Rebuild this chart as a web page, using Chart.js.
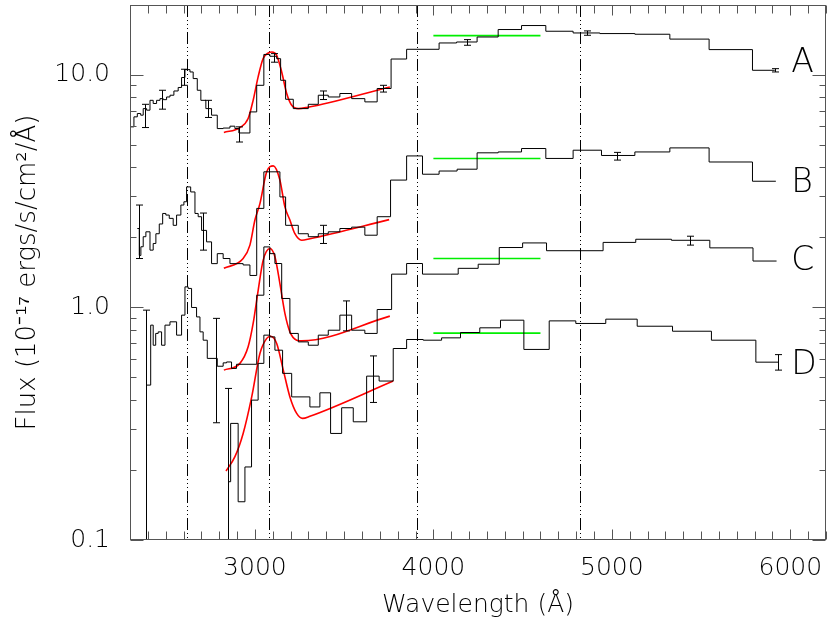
<!DOCTYPE html>
<html lang="en">
<head>
<meta charset="UTF-8">
<title>Flux vs Wavelength</title>
<script src="https://cdn.jsdelivr.net/npm/chart.js"></script>
<style>
  html, body { margin: 0; padding: 0; background: #fff; }
  #wrap { width: 830px; height: 623px; }
</style>
</head>
<body>
<div id="wrap"><canvas id="specChart" width="830" height="623"></canvas></div>
<script>
// bin edges (Angstrom) and flux per bin
const aWave = [2304, 2322, 2341, 2360, 2374, 2393, 2412, 2430, 2449, 2468, 2486, 2505, 2524, 2546, 2570, 2589, 2608, 2636, 2654, 2677, 2697, 2725, 2757, 2789, 2822, 2860, 2888, 2910, 2972, 3010, 3050, 3084, 3122, 3144, 3172, 3215, 3299, 3355, 3411, 3476, 3542, 3616, 3685, 3763, 3850, 4032, 4130, 4245, 4363, 4494, 4630, 4783, 4933, 5129, 5325, 5545, 5788, 5913];
const aFlux = [5.96, 6.58, 6.80, 6.69, 7.14, 7.03, 7.75, 7.51, 7.75, 7.88, 7.80, 8.01, 8.15, 8.50, 8.80, 9.71, 10.5, 10.26, 9.61, 8.56, 7.75, 7.14, 6.69, 5.86, 5.89, 6.00, 5.86, 5.61, 6.91, 8.99, 12.2, 11.98, 11.7, 9.45, 7.83, 7.14, 7.45, 8.15, 8.01, 8.29, 7.88, 7.63, 8.71, 11.66, 12.84, 13.67, 13.8, 14.5, 15.61, 16.24, 15.35, 15.09, 15.0, 14.9, 14.2, 12.8, 10.43];

const bWave = [2341, 2352, 2361, 2374, 2389, 2412, 2430, 2445, 2464, 2483, 2501, 2520, 2542, 2561, 2585, 2602, 2617, 2640, 2664, 2682, 2701, 2729, 2757, 2789, 2822, 2860, 2934, 2972, 3010, 3050, 3140, 3172, 3243, 3299, 3355, 3411, 3476, 3542, 3616, 3685, 3760, 3850, 3939, 4032, 4133, 4245, 4363, 4494, 4630, 4783, 4942, 5129, 5325, 5545, 5788, 5919];
const bFlux = [2.18, 1.67, 1.82, 2.01, 2.11, 1.76, 1.88, 2.07, 2.28, 2.53, 2.49, 2.41, 2.25, 2.49, 2.75, 2.84, 3.29, 3.13, 2.53, 2.45, 2.14, 1.91, 1.54, 1.70, 1.62, 1.54, 1.52, 1.37, 2.66, 3.82, 2.98, 2.25, 2.07, 2.01, 2.07, 2.11, 2.18, 2.21, 2.04, 2.45, 3.52, 4.47, 3.73, 3.85, 3.92, 4.61, 4.65, 4.81, 4.36, 4.73, 4.49, 4.65, 4.84, 4.21, 3.48];

const cWave = [2393, 2416, 2430, 2444, 2458, 2477, 2496, 2524, 2561, 2589, 2608, 2626, 2645, 2673, 2692, 2710, 2733, 2789, 2822, 2841, 2869, 2897, 3010, 3050, 3084, 3112, 3150, 3196, 3243, 3299, 3355, 3411, 3476, 3542, 3616, 3685, 3766, 3850, 3939, 4139, 4251, 4369, 4500, 4634, 4951, 5134, 5334, 5549, 5791, 5923];
const cFlux = [0.463, 0.838, 0.687, 0.772, 0.784, 0.687, 0.838, 0.866, 0.759, 0.925, 1.224, 1.205, 0.998, 0.909, 0.784, 0.722, 0.603, 0.558, 0.577, 0.582, 0.546, 0.569, 1.127, 1.817, 1.70, 1.542, 1.091, 0.772, 0.710, 0.687, 0.759, 0.797, 0.925, 0.797, 0.772, 0.978, 1.388, 1.542, 1.388, 1.47, 1.531, 1.806, 1.89, 1.75, 1.90, 1.96, 1.94, 1.80, 1.58];

const dWave = [2850, 2864, 2906, 2944, 2981, 3018, 3050, 3084, 3112, 3155, 3206, 3308, 3364, 3424, 3486, 3551, 3626, 3696, 3775, 3850, 3943, 4046, 4152, 4260, 4376, 4507, 4649, 4798, 4966, 5142, 5340, 5558, 5807, 5932];
const dFlux = [0.178, 0.317, 0.146, 0.206, 0.399, 0.574, 0.759, 0.746, 0.654, 0.520, 0.412, 0.373, 0.429, 0.287, 0.370, 0.322, 0.506, 0.482, 0.665, 0.727, 0.722, 0.739, 0.779, 0.816, 0.880, 0.659, 0.874, 0.852, 0.889, 0.829, 0.789, 0.722, 0.581];

// error bars
const aErrWave = [2384, 2481, 2604, 2738, 2909, 3106, 3379, 3719, 4189, 4862, 5913];
const aErrLo = [5.92, 7.10, 8.99, 6.54, 5.13, 11.3, 7.81, 8.41, 13.36, 14.75, 10.26];
const aErrHi = [7.45, 8.56, 10.54, 7.75, 5.96, 12.3, 8.50, 8.99, 14.13, 15.4, 10.6];
const bErrWave = [2350, 2710, 3379, 5030];
const bErrLo = [1.62, 1.76, 1.88, 4.29];
const bErrHi = [2.75, 2.54, 2.25, 4.63];
const cErrWave = [2389, 2780, 3510, 5437];
const cErrLo = [0.05, 0.319, 0.792, 1.85];
const cErrHi = [0.972, 0.896, 1.065, 2.02];
const dErrWave = [2850, 3663, 5932];
const dErrLo = [0.05, 0.390, 0.537];
const dErrHi = [0.448, 0.618, 0.626];

// line fits (red), sampled from the figure
const aFitWave = [2826, 2916, 2962, 2990, 3018, 3046, 3075, 3095, 3122, 3150, 3178, 3206, 3243, 3290, 3756];
const aFitFlux = [5.64, 5.92, 6.47, 7.75, 9.77, 11.72, 12.38, 12.5, 12.10, 10.26, 8.29, 7.38, 7.14, 7.22, 8.84];
const bFitWave = [2826, 2934, 2972, 3000, 3028, 3066, 3103, 3140, 3168, 3196, 3224, 3262, 3308, 3752];
const bFitFlux = [1.47, 1.62, 1.85, 2.37, 2.79, 3.82, 4.05, 3.52, 2.70, 2.37, 2.07, 1.94, 1.97, 2.38];
const cFitWave = [2826, 2916, 2962, 2990, 3018, 3046, 3084, 3112, 3140, 3168, 3196, 3234, 3262, 3756];
const cFitFlux = [0.537, 0.574, 0.676, 0.852, 1.18, 1.59, 1.79, 1.65, 1.265, 0.941, 0.784, 0.722, 0.717, 0.916];
const dFitWave = [2838, 2888, 2934, 2982, 3028, 3066, 3088, 3122, 3159, 3196, 3234, 3267, 3308, 3775];
const dFitFlux = [0.198, 0.228, 0.287, 0.412, 0.633, 0.735, 0.751, 0.699, 0.537, 0.412, 0.350, 0.333, 0.340, 0.482];

// green continuum levels
const greenWave = [4000, 4600];
const greenFlux = [14.7, 4.36, 1.62, 0.774];

// dash-dot reference lines
const lineWave = [2617, 3080, 3908, 4821];

const names = ['A', 'B', 'C', 'D'];
const nameFlux = [11.18, 3.41, 1.58, 0.564];
const nameWave = 6005;

const xTicks = [3000, 4000, 5000, 6000];
const yTicks = [0.1, 1, 10];

const FONT = '"DejaVu Sans", "Liberation Sans", sans-serif';

function steps(wave, flux) {
  // edges -> points; 'before' stepping keeps each value until the next edge
  return wave.map((w, i) => ({ x: w, y: flux[Math.min(i, flux.length - 1)] }));
}
function pts(wave, flux) {
  return wave.map((w, i) => ({ x: w, y: flux[i] }));
}

const spectra = [[aWave, aFlux], [bWave, bFlux], [cWave, cFlux], [dWave, dFlux]];
const fits = [[aFitWave, aFitFlux], [bFitWave, bFitFlux], [cFitWave, cFitFlux], [dFitWave, dFitFlux]];
const errs = [[aErrWave, aErrLo, aErrHi], [bErrWave, bErrLo, bErrHi], [cErrWave, cErrLo, cErrHi], [dErrWave, dErrLo, dErrHi]];

const datasets = [];
spectra.forEach((s, i) => datasets.push({
  label: names[i], data: steps(s[0], s[1]), stepped: 'before',
  borderColor: '#000', borderWidth: 1, pointRadius: 0
}));
fits.forEach((f, i) => datasets.push({
  label: names[i] + ' fit', data: pts(f[0], f[1]), cubicInterpolationMode: 'monotone',
  borderColor: '#ff0000', borderWidth: 1.6, pointRadius: 0
}));
greenFlux.forEach((g, i) => datasets.push({
  label: names[i] + ' level', data: greenWave.map(w => ({ x: w, y: g })),
  borderColor: '#00ee00', borderWidth: 1.6, pointRadius: 0
}));

const decor = {
  id: 'decor',
  beforeDatasetsDraw(chart) {
    const { ctx, chartArea: ca, scales: { x } } = chart;
    ctx.save();
    ctx.strokeStyle = '#000';
    ctx.lineWidth = 1;
    ctx.setLineDash([12, 3, 1, 3, 1, 3, 1, 3]);
    lineWave.forEach(w => {
      const px = Math.round(x.getPixelForValue(w)) + 0.5;
      ctx.beginPath();
      ctx.moveTo(px, ca.top);
      ctx.lineTo(px, ca.bottom);
      ctx.stroke();
    });
    ctx.restore();
  },
  afterDatasetsDraw(chart) {
    const { ctx, chartArea: ca, scales: { x, y } } = chart;
    ctx.save();
    // error bars
    ctx.beginPath();
    ctx.rect(ca.left, ca.top, ca.right - ca.left, ca.bottom - ca.top);
    ctx.clip();
    ctx.strokeStyle = '#000';
    ctx.lineWidth = 1;
    errs.forEach(([ew, lo, hi]) => {
      ew.forEach((w, i) => {
        const px = Math.round(x.getPixelForValue(w)) + 0.5;
        const y1 = y.getPixelForValue(lo[i]);
        const y2 = y.getPixelForValue(hi[i]);
        ctx.beginPath();
        ctx.moveTo(px, y1); ctx.lineTo(px, y2);
        ctx.moveTo(px - 3.5, y1); ctx.lineTo(px + 3.5, y1);
        ctx.moveTo(px - 3.5, y2); ctx.lineTo(px + 3.5, y2);
        ctx.stroke();
      });
    });
    ctx.restore();

    // axis box and inward ticks
    ctx.save();
    ctx.strokeStyle = '#555';
    ctx.lineWidth = 1;
    const L = ca.left + 0.5, R = ca.right - 0.5, T = ca.top + 0.5, B = ca.bottom - 0.5;
    ctx.strokeRect(L, T, R - L, B - T);
    ctx.beginPath();
    for (let w = Math.ceil(x.min / 100) * 100; w <= x.max; w += 100) {
      const px = Math.round(x.getPixelForValue(w)) + 0.5;
      const len = w % 1000 === 0 ? 10 : 8;
      ctx.moveTo(px, B); ctx.lineTo(px, B - len);
      ctx.moveTo(px, T); ctx.lineTo(px, T + len);
    }
    yTicks.forEach(d => {
      for (let k = 1; k <= 9; k++) {
        const v = d * k;
        if (v < y.min || v > y.max) continue;
        const py = Math.round(y.getPixelForValue(v)) + 0.5;
        const len = k === 1 ? 13 : 6;
        ctx.moveTo(L, py); ctx.lineTo(L + len, py);
        ctx.moveTo(R, py); ctx.lineTo(R - len, py);
      }
    });
    ctx.stroke();
    ctx.restore();

    // spectrum letters
    ctx.save();
    ctx.fillStyle = '#000';
    ctx.font = '300 33px ' + FONT;
    ctx.textAlign = 'left';
    ctx.textBaseline = 'middle';
    names.forEach((n, i) => {
      ctx.fillText(n, x.getPixelForValue(nameWave), y.getPixelForValue(nameFlux[i]));
    });
    ctx.restore();
  }
};

new Chart(document.getElementById('specChart'), {
  type: 'line',
  data: { datasets },
  plugins: [decor],
  options: {
    responsive: false,
    animation: false,
    devicePixelRatio: 1,
    layout: { padding: { left: 0, right: 4, top: 5, bottom: 0 } },
    plugins: { legend: { display: false }, tooltip: { enabled: false } },
    scales: {
      x: {
        type: 'linear', min: 2300, max: 6200,
        grid: { display: false }, border: { display: false },
        afterBuildTicks: s => { s.ticks = xTicks.map(v => ({ value: v })); },
        afterFit: s => { s.height = 83; s.paddingLeft = 0; s.paddingRight = 0; },
        ticks: { color: '#000', padding: 5, maxRotation: 0, font: { family: FONT, size: 25, weight: '300' }, callback: v => String(v) },
        title: { display: true, text: 'Wavelength (Å)', color: '#000', padding: { top: 0, bottom: 3 }, font: { family: FONT, size: 25, weight: '300' } }
      },
      y: {
        type: 'logarithmic', min: 0.1, max: 19.9,
        grid: { display: false }, border: { display: false },
        afterBuildTicks: s => { s.ticks = yTicks.map(v => ({ value: v })); },
        afterFit: s => { s.width = 130; s.paddingTop = 0; s.paddingBottom = 0; },
        ticks: { color: '#000', padding: 12, font: { family: FONT, size: 25, weight: '300' }, callback: v => Number(v).toFixed(1) },
        title: { display: true, text: 'Flux (10⁻¹⁷ ergs/s/cm²/Å)', color: '#000', padding: { top: 13, bottom: 0 }, font: { family: FONT, size: 26, weight: '300' } }
      }
    }
  }
});
</script>
</body>
</html>
